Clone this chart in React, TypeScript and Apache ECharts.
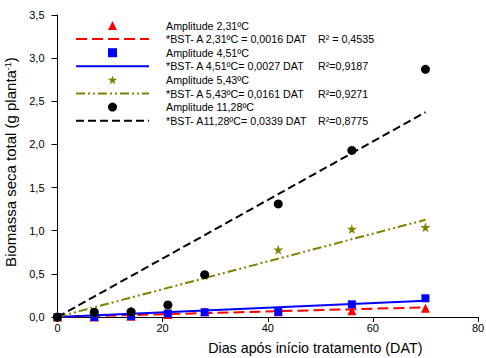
import React, { useEffect, useRef } from "react";
import * as echarts from "echarts";

const days = [0, 7, 14, 21, 28, 42, 56, 70];
const amp231 = [0, 0.0, 0.01, 0.03, 0.06, 0.06, 0.073, 0.1];
const amp451 = [0, 0.0, 0.01, 0.04, 0.055, 0.06, 0.147, 0.217];
const amp543 = [0, 0.05, 0.06, 0.13, 0.48, 0.78, 1.02, 1.04];
const amp1128 = [0, 0.055, 0.06, 0.14, 0.49, 1.31, 1.93, 2.87];

const fitX = [0, 70];
const fit231 = [0, 0.112];
const fit451 = [0, 0.189];
const fit543 = [0, 1.127];
const fit1128 = [0, 2.373];

const pointNames = ["Amplitude 2,31ºC", "Amplitude 4,51ºC", "Amplitude 5,43ºC", "Amplitude 11,28ºC"];
const fitNames = [
  "*BST- A 2,31ºC = 0,0016 DAT",
  "*BST- A 4,51ºC= 0,0027 DAT",
  "*BST- A 5,43ºC= 0,0161 DAT",
  "*BST- A11,28ºC= 0,0339 DAT",
];
const r2Labels = ["R² = 0,4535", "R²=0,9187", "R²=0,9271", "R²=0,8775"];

const colors = ["#ff0000", "#0000ff", "#808000", "#000000"];
const STAR = "path://M50,0 L61,35 L98,35 L68,57 L79,91 L50,70 L21,91 L32,57 L2,35 L39,35 Z";
const TRI = "path://M0,10 L5,0 L10,10 Z";
const SQ = "path://M0,0 L10,0 L10,10 L0,10 Z";
const symbols = ["triangle", "rect", STAR, "circle"];
const legendIcons = [TRI, SQ, STAR, "circle"];
const symbolSizes = [9, 8, 10, 9];
const dashes: any[] = [[11, 5], "solid", [9, 3, 2, 3, 2, 3], [8, 4]];

const FONT = "Liberation Sans, Arial, sans-serif";

export default function App() {
  const ref = useRef<HTMLDivElement>(null);
  useEffect(() => {
    if (!ref.current) return;
    const chart = echarts.init(ref.current, null, { renderer: "svg" });
    const pointSets = [amp231, amp451, amp543, amp1128];
    const fitSets = [fit231, fit451, fit543, fit1128];
    const series: any[] = [];
    const legendData: any[] = [];
    for (let i = 0; i < 4; i++) {
      series.push({
        type: "line",
        name: fitNames[i],
        data: fitX.map((x, j) => [x, fitSets[i][j]]),
        symbol: "none",
        showSymbol: false,
        lineStyle: { color: colors[i], width: 2, type: dashes[i] },
        itemStyle: { color: colors[i] },
        z: 2,
      });
    }
    for (let i = 0; i < 4; i++) {
      series.push({
        type: "scatter",
        name: pointNames[i],
        data: days.map((d, j) => [d, pointSets[i][j]]),
        symbol: symbols[i],
        symbolSize: symbolSizes[i],
        itemStyle: { color: colors[i], opacity: 1 },
        z: 3,
      });
    }
    for (let i = 0; i < 4; i++) {
      legendData.push({ name: pointNames[i], icon: legendIcons[i], itemStyle: { color: colors[i] } });
      legendData.push({
        name: fitNames[i],
        itemStyle: { opacity: 0 },
        lineStyle: { color: colors[i], width: 2, type: dashes[i] },
      });
    }
    chart.setOption({
      animation: false,
      backgroundColor: "#ffffff",
      grid: { left: 57.5, right: 8, top: 15, bottom: 41, containLabel: false, outerBoundsMode: "none" },
      legend: {
        orient: "vertical",
        left: 75,
        top: 18.7,
        padding: 0,
        itemWidth: 73,
        itemHeight: 9,
        itemGap: 0,
        symbolKeepAspect: true,
        data: legendData,
        selectedMode: false,
        formatter: (name: string) => {
          const idx = fitNames.indexOf(name);
          if (idx >= 0) return `{eq|${name}}{r|${r2Labels[idx]}}`;
          return `{eq|${name}}`;
        },
        textStyle: {
          fontFamily: FONT,
          fontSize: 10.7,
          color: "#000",
          lineHeight: 13.6,
          padding: [0, 0, 0, 12],
          rich: {
            eq: { fontFamily: FONT, fontSize: 10.7, color: "#000", lineHeight: 13.6, width: 152 },
            r: { fontFamily: FONT, fontSize: 10.7, color: "#000", lineHeight: 13.6 },
          },
        },
      },
      xAxis: {
        type: "value",
        min: 0,
        max: 80,
        interval: 20,
        name: "Dias após início tratamento (DAT)",
        nameLocation: "middle",
        nameGap: 24,
        nameTextStyle: { fontFamily: FONT, fontSize: 14.3, color: "#000", padding: [0, 0, 0, 95] },
        axisLine: { show: true, lineStyle: { color: "#000", width: 1 } },
        axisTick: { show: true, inside: false, length: 5, lineStyle: { color: "#000" } },
        axisLabel: { fontFamily: FONT, fontSize: 11, color: "#000", margin: 5 },
        splitLine: { show: false },
      },
      yAxis: {
        type: "value",
        min: 0,
        max: 3.5,
        interval: 0.5,
        name: "{a|Biomassa seca total (g planta}{b|-1}{a|)}",
        nameLocation: "middle",
        nameGap: 32,
        nameTextStyle: {
          fontFamily: FONT,
          fontSize: 15,
          color: "#000",
          padding: [0, 0, 0, 8],
          rich: {
            a: { fontFamily: FONT, fontSize: 15, color: "#000" },
            b: { fontFamily: FONT, fontSize: 9, color: "#000", verticalAlign: "top" },
          },
        },
        axisLine: { show: true, lineStyle: { color: "#000", width: 1 } },
        axisTick: { show: true, inside: false, length: 6, lineStyle: { color: "#000" } },
        axisLabel: {
          fontFamily: FONT,
          fontSize: 11,
          color: "#000",
          margin: 13,
          formatter: (v: number) => v.toFixed(1).replace(".", ","),
        },
        splitLine: { show: false },
      },
      series,
    });
    return () => chart.dispose();
  }, []);
  return <div ref={ref} style={{ width: 486, height: 358, position: "absolute", left: 0, top: 0 }} />;
}
